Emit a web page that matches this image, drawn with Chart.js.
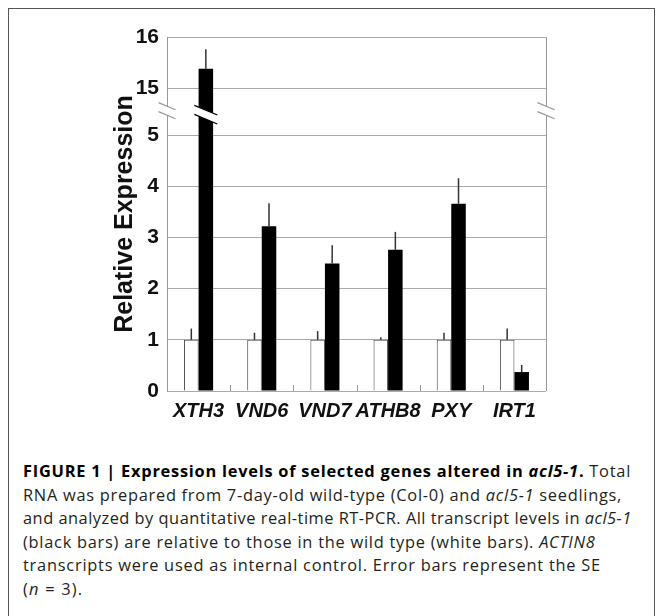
<!DOCTYPE html>
<html>
<head>
<meta charset="utf-8">
<script src="https://cdn.jsdelivr.net/npm/chart.js@4"></script>
<style>
html, body { margin: 0; padding: 0; background: #fff; }
body { width: 662px; height: 616px; position: relative; overflow: hidden; font-family: "Liberation Sans", Arial, sans-serif; }
#frame { position: absolute; left: 8px; top: 8px; width: 645px; height: 640px; border: 1.5px solid #555; border-bottom: none; }
#c { position: absolute; left: 0; top: 0; }
#cap { position: absolute; left: 23px; top: 459px; font-family: "Open Sans", sans-serif; font-size: 16.4px; line-height: 23.5px; color: #231f20; white-space: nowrap; }
#cap b { color: #000; }
</style>
</head>
<body>
<div id="frame"></div>
<canvas id="c" width="662" height="440"></canvas>
<div id="cap">
<span style="letter-spacing:0.75px"><b>FIGURE 1 | Expression levels of selected genes altered in <i>acl5-1</i>.</b> Total</span><br>
<span style="letter-spacing:0.73px">RNA was prepared from 7-day-old wild-type (Col-0) and <i>acl5-1</i> seedlings,</span><br>
<span style="letter-spacing:0.49px">and analyzed by quantitative real-time RT-PCR. All transcript levels in <i>acl5-1</i></span><br>
<span style="letter-spacing:0.74px">(black bars) are relative to those in the wild type (white bars). <i>ACTIN8</i></span><br>
<span style="letter-spacing:0.76px">transcripts were used as internal control. Error bars represent the SE</span><br>
<span style="letter-spacing:1.2px">(<i>n</i> = 3).</span>
</div>
<script>
const genes = ['XTH3', 'VND6', 'VND7', 'ATHB8', 'PXY', 'IRT1'];
const wildType = [1, 1, 1, 1, 1, 1];
const wildTypeSE = [0.22, 0.14, 0.17, 0.05, 0.14, 0.22];
const acl5 = [15.38, 3.22, 2.49, 2.76, 3.66, 0.37];
const acl5SE = [0.38, 0.45, 0.36, 0.35, 0.50, 0.14];
const yTickValues = [0, 1, 2, 3, 4, 5, 15, 16];

// broken axis: 0-5 as is, 15-16 pulled down under the break
const BREAK_LOW = 5, BREAK_HIGH = 15, SHIFT = 9.08;
const toAxis = v => v <= BREAK_LOW ? v : v - SHIFT;

const FONT = '"Liberation Sans", Arial, sans-serif';

function drawBreak(ctx, cx, cy, hw, color) {
  const gap = 9, dy = hw * 0.42;
  ctx.beginPath();
  ctx.moveTo(cx - hw, cy - gap / 2 - dy);
  ctx.lineTo(cx + hw, cy - gap / 2 + dy);
  ctx.lineTo(cx + hw, cy + gap / 2 + dy);
  ctx.lineTo(cx - hw, cy + gap / 2 - dy);
  ctx.closePath();
  ctx.fillStyle = '#fff';
  ctx.fill();
  ctx.strokeStyle = color;
  ctx.lineWidth = 1.3;
  ctx.beginPath();
  ctx.moveTo(cx - hw, cy - gap / 2 - dy);
  ctx.lineTo(cx + hw, cy - gap / 2 + dy);
  ctx.moveTo(cx - hw, cy + gap / 2 - dy);
  ctx.lineTo(cx + hw, cy + gap / 2 + dy);
  ctx.stroke();
}

const extras = {
  id: 'extras',
  afterDatasetsDraw(chart) {
    const { ctx, chartArea: a, scales: { x, y } } = chart;
    ctx.save();
    // right frame line
    ctx.strokeStyle = '#999';
    ctx.lineWidth = 1;
    ctx.beginPath();
    ctx.moveTo(a.right + 0.5, a.top);
    ctx.lineTo(a.right + 0.5, a.bottom);
    // small inner ticks between genes
    for (let i = 1; i < genes.length; i++) {
      const px = Math.round((x.getPixelForTick(i - 1) + x.getPixelForTick(i)) / 2) + 0.5;
      ctx.moveTo(px, a.bottom - 6);
      ctx.lineTo(px, a.bottom);
    }
    ctx.stroke();
    // error bars (upper half only)
    ctx.strokeStyle = '#333';
    ctx.lineWidth = 1.5;
    [[wildType, wildTypeSE], [acl5, acl5SE]].forEach(([vals, se], d) => {
      chart.getDatasetMeta(d).data.forEach((bar, j) => {
        ctx.beginPath();
        ctx.moveTo(bar.x, bar.y);
        ctx.lineTo(bar.x, y.getPixelForValue(toAxis(vals[j] + se[j])));
        ctx.stroke();
      });
    });
    // break marks
    const yb = (y.getPixelForValue(toAxis(BREAK_LOW)) + y.getPixelForValue(toAxis(BREAK_HIGH))) / 2;
    drawBreak(ctx, a.left, yb - 1, 8.5, '#999');
    drawBreak(ctx, a.right, yb - 1, 8.5, '#999');
    drawBreak(ctx, chart.getDatasetMeta(1).data[0].x, yb + 3, 11.5, '#000');
    ctx.restore();
  }
};

new Chart(document.getElementById('c'), {
  type: 'bar',
  data: {
    labels: genes,
    datasets: [
      {
        label: 'wild type',
        data: wildType.map(toAxis),
        backgroundColor: '#fff',
        borderColor: '#444',
        borderWidth: 1,
        categoryPercentage: 0.46,
        barPercentage: 1
      },
      {
        label: 'acl5-1',
        data: acl5.map(toAxis),
        backgroundColor: '#000',
        borderWidth: 0,
        categoryPercentage: 0.46,
        barPercentage: 1
      }
    ]
  },
  options: {
    responsive: false,
    animation: false,
    devicePixelRatio: 1,
    layout: { padding: { top: 37, right: 116, left: 0, bottom: 0 } },
    plugins: { legend: { display: false }, tooltip: { enabled: false } },
    scales: {
      x: {
        grid: { display: false, drawTicks: false },
        border: { display: false },
        ticks: {
          color: '#111',
          padding: 8,
          maxRotation: 0,
          minRotation: 0,
          autoSkip: false,
          font: { family: FONT, size: 20, weight: 'bold', style: 'italic' }
        },
        afterFit: s => { s.height = 49; }
      },
      y: {
        min: 0,
        max: toAxis(16),
        afterBuildTicks: s => { s.ticks = yTickValues.map(v => ({ value: toAxis(v) })); },
        ticks: {
          color: '#111',
          padding: 8,
          font: { family: FONT, size: 21, weight: 'bold' },
          callback: (v, i) => yTickValues[i]
        },
        grid: { color: '#aaa', lineWidth: 1, drawTicks: false },
        border: { display: true, color: '#999' },
        title: {
          display: true,
          text: 'Relative Expression',
          color: '#111',
          font: { family: FONT, size: 25, weight: 'bold' },
          padding: { top: 110, bottom: 0 }
        },
        afterFit: s => { s.width = 167; }
      }
    }
  },
  plugins: [extras]
});
</script>
</body>
</html>
